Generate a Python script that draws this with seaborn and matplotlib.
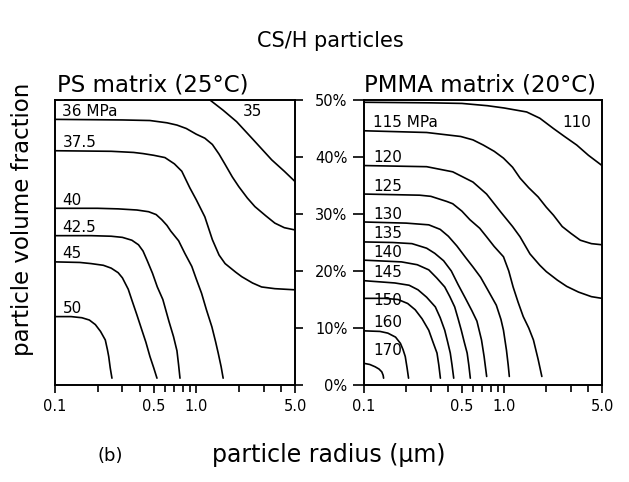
import matplotlib
matplotlib.use("Agg")
import matplotlib.pyplot as plt
import matplotlib.ticker as mticker
import numpy as np
import pandas as pd
import seaborn as sns

# ---------------- data ----------------
# PS matrix (25 C): particle radius (um) vs particle volume fraction (%)
PS_35_R = [1.25, 1.55, 1.93, 2.54, 3.42, 4.2, 5.0]
PS_35_V = [50.0, 48.2, 46.2, 43.0, 39.5, 37.5, 35.7]
PS_36_R = [0.1, 0.3, 0.47, 0.62, 0.73, 0.85, 1.0, 1.15, 1.3, 1.45, 1.6, 1.8, 2.0, 2.3, 2.6, 3.1, 3.6, 4.2, 5.0]
PS_36_V = [46.6, 46.5, 46.4, 46.0, 45.6, 45.0, 44.0, 43.3, 42.2, 40.5, 38.7, 36.5, 34.8, 32.8, 31.3, 29.7, 28.4, 27.6, 27.2]
PS_375_R = [0.1, 0.25, 0.36, 0.42, 0.5, 0.6, 0.7, 0.79, 0.9, 1.0, 1.15, 1.3, 1.45, 1.6, 1.9, 2.1, 2.5, 2.9, 3.6, 5.0]
PS_375_V = [41.1, 41.0, 40.8, 40.6, 40.3, 39.9, 38.8, 37.5, 34.6, 32.5, 29.5, 25.5, 22.8, 21.3, 19.8, 19.0, 17.9, 17.2, 16.9, 16.7]
PS_40_R = [0.1, 0.2, 0.28, 0.38, 0.46, 0.52, 0.57, 0.62, 0.66, 0.75, 0.83, 0.93, 1.0, 1.09, 1.18, 1.29, 1.37, 1.43, 1.5, 1.55]
PS_40_V = [31.0, 31.0, 30.9, 30.7, 30.4, 29.9, 29.0, 28.0, 27.0, 25.3, 23.1, 20.8, 18.6, 16.1, 13.2, 10.2, 7.6, 5.6, 3.2, 1.2]
PS_425_R = [0.1, 0.18, 0.25, 0.3, 0.35, 0.39, 0.42, 0.45, 0.49, 0.53, 0.58, 0.64, 0.69, 0.73, 0.75, 0.767]
PS_425_V = [26.2, 26.2, 26.1, 25.9, 25.4, 24.6, 23.5, 21.8, 19.6, 17.2, 15.0, 11.2, 8.5, 6.0, 3.5, 1.2]
PS_45_R = [0.1, 0.15, 0.18, 0.22, 0.25, 0.28, 0.3, 0.33, 0.35, 0.38, 0.41, 0.44, 0.47, 0.5, 0.527]
PS_45_V = [21.6, 21.5, 21.3, 21.0, 20.5, 19.7, 18.8, 16.8, 14.9, 12.3, 9.8, 7.5, 5.0, 3.0, 1.2]
PS_50_R = [0.1, 0.13, 0.155, 0.175, 0.193, 0.21, 0.227, 0.235, 0.24, 0.246, 0.253]
PS_50_V = [12.0, 12.0, 11.8, 11.4, 10.6, 9.4, 7.9, 6.2, 5.0, 3.0, 1.2]

# PMMA matrix (20 C)
PM_110_R = [0.1, 0.3, 0.5, 0.76, 1.0, 1.45, 1.8, 2.25, 2.7, 3.3, 4.0, 5.0]
PM_110_V = [49.6, 49.5, 49.4, 49.0, 48.6, 47.9, 46.8, 45.0, 43.6, 42.1, 40.3, 38.5]
PM_115_R = [0.1, 0.28, 0.49, 0.6, 0.71, 0.85, 0.99, 1.15, 1.3, 1.5, 1.75, 2.0, 2.25, 2.6, 3.0, 3.5, 4.2, 5.0]
PM_115_V = [44.6, 44.3, 43.6, 43.0, 42.1, 41.0, 39.8, 38.2, 36.3, 34.6, 33.0, 31.2, 29.8, 27.8, 26.6, 25.4, 24.8, 24.6]
PM_120_R = [0.1, 0.28, 0.43, 0.6, 0.75, 0.95, 1.15, 1.3, 1.53, 1.8, 2.0, 2.4, 2.8, 3.4, 4.2, 5.0]
PM_120_V = [38.5, 38.3, 37.4, 35.6, 33.5, 30.3, 27.8, 26.0, 23.0, 21.0, 19.9, 18.4, 17.3, 16.3, 15.5, 15.2]
PM_125_R = [0.1, 0.25, 0.3, 0.39, 0.43, 0.5, 0.57, 0.67, 0.75, 0.85, 0.99, 1.08, 1.16, 1.26, 1.37, 1.5, 1.62, 1.75, 1.86]
PM_125_V = [33.5, 33.3, 33.1, 32.2, 31.8, 30.5, 29.0, 27.5, 26.0, 24.3, 22.5, 20.0, 17.2, 14.5, 12.0, 10.0, 7.9, 4.5, 1.5]
PM_130_R = [0.1, 0.2, 0.29, 0.35, 0.4, 0.46, 0.53, 0.6, 0.68, 0.76, 0.88, 0.95, 0.99, 1.04, 1.07, 1.09]
PM_130_V = [28.6, 28.4, 28.1, 27.3, 26.1, 24.4, 22.4, 20.7, 18.9, 16.8, 14.0, 11.5, 9.6, 6.1, 3.5, 1.5]
PM_135_R = [0.1, 0.16, 0.22, 0.28, 0.32, 0.37, 0.42, 0.47, 0.53, 0.59, 0.64, 0.69, 0.72, 0.751]
PM_135_V = [25.1, 25.0, 24.8, 24.0, 23.1, 21.8, 20.0, 17.6, 15.2, 13.0, 11.2, 7.9, 5.0, 1.5]
PM_140_R = [0.1, 0.185, 0.24, 0.29, 0.33, 0.377, 0.41, 0.444, 0.47, 0.495, 0.52, 0.545, 0.56, 0.574]
PM_140_V = [21.9, 21.6, 21.1, 20.2, 18.8, 17.2, 15.5, 13.7, 11.6, 9.6, 7.5, 5.6, 3.5, 1.2]
PM_145_R = [0.1, 0.166, 0.21, 0.243, 0.28, 0.323, 0.35, 0.377, 0.395, 0.413, 0.425, 0.437]
PM_145_V = [18.3, 17.9, 17.5, 16.7, 15.4, 13.7, 11.8, 9.6, 7.6, 5.6, 3.5, 1.2]
PM_150_R = [0.1, 0.14, 0.175, 0.205, 0.232, 0.26, 0.29, 0.31, 0.332, 0.342, 0.351]
PM_150_V = [15.2, 15.2, 15.0, 14.3, 13.2, 11.6, 9.6, 7.6, 5.6, 3.5, 1.2]
PM_160_R = [0.1, 0.13, 0.148, 0.168, 0.182, 0.19, 0.197, 0.203, 0.208]
PM_160_V = [9.5, 9.4, 9.1, 8.4, 7.3, 6.2, 5.0, 3.0, 1.2]
PM_170_R = [0.1, 0.11, 0.12, 0.128, 0.134, 0.137, 0.138]
PM_170_V = [3.8, 3.6, 3.2, 2.8, 2.3, 1.7, 1.2]

PS_LABELS = ["35", "36 MPa", "37.5", "40", "42.5", "45", "50"]
PM_LABELS = ["110", "115 MPa", "120", "125", "130", "135", "140", "145", "150", "160", "170"]

X_TICKS = [0.1, 0.5, 1.0, 5.0]
X_TICK_LABELS = ["0.1", "0.5", "1.0", "5.0"]
Y_TICKS = [0, 10, 20, 30, 40, 50]
Y_TICK_LABELS = ["0%", "10%", "20%", "30%", "40%", "50%"]

ps_curves = [(PS_35_R, PS_35_V), (PS_36_R, PS_36_V), (PS_375_R, PS_375_V), (PS_40_R, PS_40_V),
             (PS_425_R, PS_425_V), (PS_45_R, PS_45_V), (PS_50_R, PS_50_V)]
pm_curves = [(PM_110_R, PM_110_V), (PM_115_R, PM_115_V), (PM_120_R, PM_120_V), (PM_125_R, PM_125_V),
             (PM_130_R, PM_130_V), (PM_135_R, PM_135_V), (PM_140_R, PM_140_V), (PM_145_R, PM_145_V),
             (PM_150_R, PM_150_V), (PM_160_R, PM_160_V), (PM_170_R, PM_170_V)]


def to_frame(curves, labels):
    rows = []
    for (r, v), lab in zip(curves, labels):
        for i, (a, b) in enumerate(zip(r, v)):
            rows.append({"curve": lab, "order": i, "radius": a, "fraction": b})
    return pd.DataFrame(rows)


ps_df = to_frame(ps_curves, PS_LABELS)
pm_df = to_frame(pm_curves, PM_LABELS)

# ---------------- figure ----------------
sns.set_style("white")
plt.rcParams["font.family"] = ["DejaVu Sans"]
plt.rcParams["text.color"] = "black"
plt.rcParams["xtick.color"] = "black"
plt.rcParams["ytick.color"] = "black"
plt.rcParams["axes.labelcolor"] = "black"

fig = plt.figure(figsize=(6.29, 4.82), dpi=100)
W, H = 629, 482
ax1 = fig.add_axes([55 / W, (H - 385) / H, 240 / W, 285 / H])
ax2 = fig.add_axes([364 / W, (H - 385) / H, 238 / W, 285 / H])

for ax, df in ((ax1, ps_df), (ax2, pm_df)):
    sns.lineplot(data=df, x="radius", y="fraction", units="curve", estimator=None,
                 sort=False, color="black", lw=1.2, legend=False, ax=ax)
    ax.set_xscale("log")
    ax.set_xlim(0.1, 5.0)
    ax.set_ylim(0, 50)
    ax.set_xlabel("")
    ax.set_ylabel("")
    for s in ax.spines.values():
        s.set_visible(True)
        s.set_color("black")
        s.set_linewidth(1.4)
    ax.xaxis.set_major_locator(mticker.FixedLocator(X_TICKS))
    ax.xaxis.set_major_formatter(mticker.FixedFormatter(X_TICK_LABELS))
    ax.xaxis.set_minor_locator(mticker.LogLocator(base=10, subs=np.arange(2, 10)))
    ax.xaxis.set_minor_formatter(mticker.NullFormatter())
    ax.tick_params(axis="x", which="both", direction="out", bottom=True, top=False,
                   length=6, width=1.2, labelsize=10.5, pad=4, color="black",
                   labelcolor="black")
    ax.tick_params(axis="x", which="minor", length=5)
    ax.set_yticks(Y_TICKS)

# left panel: y ticks on the right side, no labels
ax1.tick_params(axis="y", which="both", left=False, right=True, labelleft=False,
                labelright=False, direction="out", length=6, width=1.2, color="black")
# right panel: y ticks with percent labels on the left
ax2.set_yticklabels(Y_TICK_LABELS)
ax2.tick_params(axis="y", left=True, right=False, direction="out", length=8, width=1.2,
                labelsize=10.5, pad=4, color="black", labelcolor="black")

# curve labels
lab_fs = 11
for ax, curves, labels, xs in ((ax1, ps_curves, PS_LABELS, 0.113), (ax2, pm_curves, PM_LABELS, 0.116)):
    for (r, v), lab in zip(curves, labels):
        if lab in ("35",):
            ax.text(2.52, 47.9, lab, fontsize=lab_fs, ha="center", va="center")
        elif lab in ("110",):
            ax.text(3.3, 46.0, lab, fontsize=lab_fs, ha="center", va="center")
        elif lab == "170":
            ax.annotate(lab, xy=(xs, v[0]), xytext=(0, 6), textcoords="offset points",
                        fontsize=lab_fs, ha="left", va="baseline")
        elif lab == "150":
            ax.annotate(lab, xy=(xs, v[0]), xytext=(0, -5), textcoords="offset points",
                        fontsize=lab_fs, ha="left", va="baseline")
        else:
            ax.annotate(lab, xy=(xs, v[0]), xytext=(0, 2.5), textcoords="offset points",
                        fontsize=lab_fs, ha="left", va="baseline")

# titles and axis labels
ax1.text(0.01, 1.012, "PS matrix (25°C)", transform=ax1.transAxes, fontsize=16.5,
         ha="left", va="bottom")
ax2.text(0.0, 1.012, "PMMA matrix (20°C)", transform=ax2.transAxes, fontsize=16.5,
         ha="left", va="bottom")
fig.text(0.525, 0.915, "CS/H particles", fontsize=15, ha="center", va="center")
fig.text(0.036, 0.545, "particle volume fraction", fontsize=16.5, rotation=90,
         ha="center", va="center")
fig.text(0.522, 0.055, "particle radius (μm)", fontsize=17, ha="center", va="center")
fig.text(0.175, 0.053, "(b)", fontsize=13, ha="center", va="center")

fig.savefig("out.png", dpi=100)
